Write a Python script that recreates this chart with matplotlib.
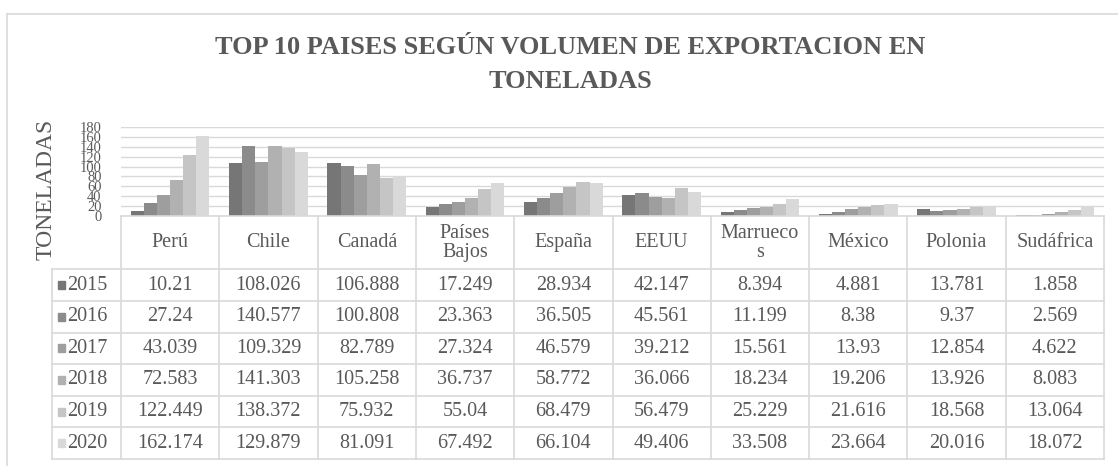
import numpy as np
import matplotlib
matplotlib.use("Agg")
import matplotlib.pyplot as plt
from matplotlib.lines import Line2D
from matplotlib.patches import Rectangle

plt.rcParams['font.family'] = ['Liberation Serif', 'DejaVu Serif']

# Datos
paises = ["Perú", "Chile", "Canadá", "Países\nBajos", "España", "EEUU",
          "Marrueco\ns", "México", "Polonia", "Sudáfrica"]
anios = ["2015", "2016", "2017", "2018", "2019", "2020"]
v2015 = [10.21, 108.026, 106.888, 17.249, 28.934, 42.147, 8.394, 4.881, 13.781, 1.858]
v2016 = [27.24, 140.577, 100.808, 23.363, 36.505, 45.561, 11.199, 8.38, 9.37, 2.569]
v2017 = [43.039, 109.329, 82.789, 27.324, 46.579, 39.212, 15.561, 13.93, 12.854, 4.622]
v2018 = [72.583, 141.303, 105.258, 36.737, 58.772, 36.066, 18.234, 19.206, 13.926, 8.083]
v2019 = [122.449, 138.372, 75.932, 55.04, 68.479, 56.479, 25.229, 21.616, 18.568, 13.064]
v2020 = [162.174, 129.879, 81.091, 67.492, 66.104, 49.406, 33.508, 23.664, 20.016, 18.072]
series = [v2015, v2016, v2017, v2018, v2019, v2020]
yticks = [0, 20, 40, 60, 80, 100, 120, 140, 160, 180]

colores = ["#767676", "#8b8b8b", "#9e9e9e", "#b1b1b1", "#c5c5c5", "#d9d9d9"]
gris = "#595959"
linea = "#d9d9d9"

W, H = 1118, 466
fig = plt.figure(figsize=(W / 100, H / 100), dpi=100)

def fx(x):
    return x / W

def fy(y):
    return 1 - y / H

# posiciones en pixeles
x0, x1 = 121, 1104
y_top, y_bot = 127, 216
col_w = (x1 - x0) / len(paises)
row_top = 269.3
row_h = 31.6

# borde del grafico
fig.add_artist(Line2D([fx(7), fx(7)], [fy(14), fy(466)], color=linea, lw=1.2))
fig.add_artist(Line2D([fx(7), fx(1118)], [fy(14), fy(14)], color=linea, lw=1.2))

# titulo
fig.text(fx(570), fy(48), "TOP 10 PAISES SEGÚN VOLUMEN DE EXPORTACION EN",
         ha="center", va="center", fontsize=19, fontweight="bold", color=gris)
fig.text(fx(570), fy(81), "TONELADAS",
         ha="center", va="center", fontsize=19, fontweight="bold", color=gris)

ax = fig.add_axes([fx(x0), fy(y_bot), fx(x1) - fx(x0), (y_bot - y_top) / H])
n = len(series)
ancho = 0.8 / n
x = np.arange(len(paises))
for i, s in enumerate(series):
    ax.bar(x - 0.4 + ancho * (i + 0.5), s, width=ancho, color=colores[i], zorder=3)

ax.set_xlim(-0.5, len(paises) - 0.5)
ax.set_ylim(0, 180)
ax.set_yticks(yticks)
ax.set_yticklabels([str(t) for t in yticks], fontsize=10.5, color=gris)
ax.set_xticks([])
ax.tick_params(axis="y", length=0, pad=14)
ax.grid(axis="y", color=linea, lw=1, zorder=0)
for sp in ax.spines.values():
    sp.set_visible(False)

fig.text(fx(46), fy(189), "TONELADAS", rotation=90, ha="center", va="center",
         fontsize=17, color=gris)

# tabla de datos
tabla_bot = row_top + row_h * len(anios)
for j in range(len(paises) + 1):
    xx = x0 + j * col_w
    fig.add_artist(Line2D([fx(xx), fx(xx)], [fy(y_bot), fy(tabla_bot)], color=linea, lw=1.2))
fig.add_artist(Line2D([fx(x0), fx(x1)], [fy(y_bot), fy(y_bot)], color=linea, lw=1.2))
for k in range(len(anios) + 1):
    yy = row_top + k * row_h
    fig.add_artist(Line2D([fx(52), fx(x1)], [fy(yy), fy(yy)], color=linea, lw=1.2))
fig.add_artist(Line2D([fx(52), fx(52)], [fy(row_top), fy(tabla_bot)], color=linea, lw=1.2))

for j, p in enumerate(paises):
    fig.text(fx(x0 + (j + 0.5) * col_w), fy((y_bot + row_top) / 2), p,
             ha="center", va="center", fontsize=14.5, color=gris, linespacing=1.0)

for k, (a, s) in enumerate(zip(anios, series)):
    yc = row_top + (k + 0.5) * row_h
    fig.add_artist(Rectangle((fx(58), fy(yc + 4)), 7 / W, 8 / H, color=colores[k],
                             transform=fig.transFigure))
    fig.text(fx(67), fy(yc), a, ha="left", va="center", fontsize=14.5, color=gris)
    for j, v in enumerate(s):
        fig.text(fx(x0 + (j + 0.5) * col_w), fy(yc), f"{v:g}",
                 ha="center", va="center", fontsize=14.5, color=gris)

fig.savefig("out.png", dpi=100)
